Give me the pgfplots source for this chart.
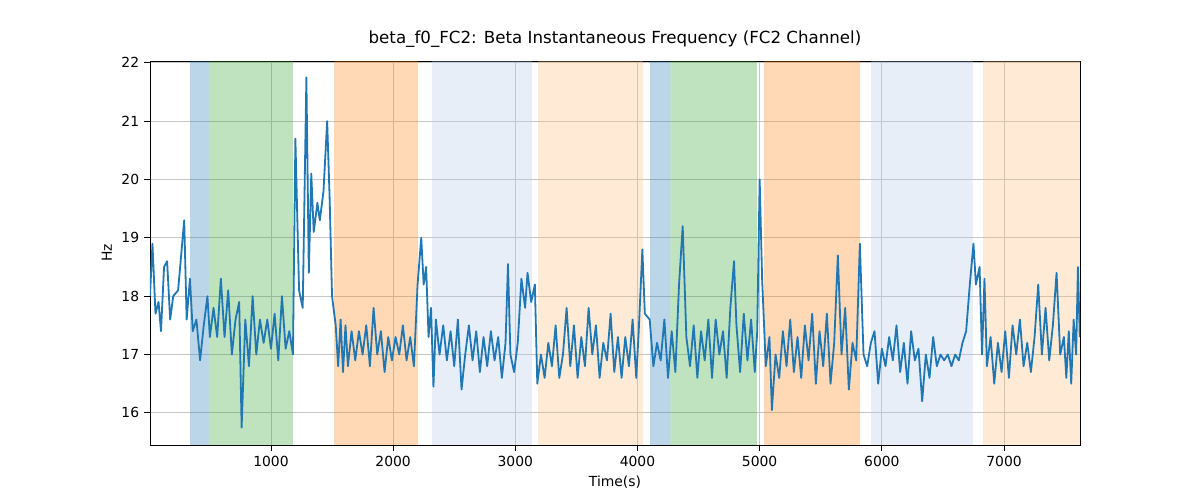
\documentclass[border=0pt]{standalone}
\usepackage{pgfplots}
\pgfplotsset{compat=1.18}
\usepackage{fontspec}
\setmainfont{DejaVu Sans}
\definecolor{tblue}{HTML}{1F77B4}
\definecolor{tgreen}{HTML}{2CA02C}
\definecolor{torange}{HTML}{FF7F0E}
\definecolor{lblue}{HTML}{AEC7E8}
\definecolor{lorange}{HTML}{FFBB78}
\begin{document}
\begin{tikzpicture}
\begin{axis}[at={(0,0)},anchor=south west,scale only axis,width=669.6pt,height=276.5pt,
xmin=10,xmax=7622,ymin=15.45,ymax=22.03,
xtick={1000,2000,...,7000},ytick={16,...,22},
xtick pos=bottom,ytick pos=left,
grid=major,grid style={gray!45,line width=0.6pt},
tick align=outside,tick style={black,line width=0.6pt},
font=\fontsize{10}{12}\selectfont,
/pgf/number format/assume math mode=true,
/pgf/number format/1000 sep={},
title={\fontsize{12}{14}\selectfont beta\_f0\_FC2: Beta Instantaneous Frequency (FC2 Channel)},
xlabel={Time(s)},ylabel={Hz}]
\def\band#1#2#3{\addplot[draw=none,fill=#3,fill opacity=0.3,forget plot] coordinates {(#1,15.45)(#2,15.45)(#2,22.03)(#1,22.03)} --cycle;}
\band{337}{493}{tblue}
\band{493}{1180}{tgreen}
\band{1516}{2204}{torange}
\band{2318}{3137}{lblue}
\band{3186}{4045}{lorange}
\band{4103}{4266}{tblue}
\band{4266}{4979}{tgreen}
\band{5036}{5822}{torange}
\band{5912}{6746}{lblue}
\band{6828}{7622}{lorange}
\addplot[tblue,line width=1.3pt,mark=none,line join=round] coordinates {
(10,18.0)(30,18.9)(55,17.7)(80,17.9)(100,17.4)(125,18.5)(150,18.6)(175,17.6)(200,18.0)(240,18.1)(290,19.3)(310,17.6)(337,18.3)(360,17.4)(390,17.6)(420,16.9)(450,17.5)(480,18.0)(500,17.3)(530,17.8)(560,17.3)(590,18.3)(620,17.3)(650,18.1)(680,17.0)(710,17.6)(740,17.9)(760,15.75)(790,17.6)(820,16.8)(850,18.0)(880,17.0)(910,17.6)(940,17.2)(970,17.6)(1000,17.1)(1030,17.7)(1060,16.9)(1090,18.0)(1120,17.1)(1150,17.4)(1180,17.0)(1200,20.7)(1230,18.1)(1260,17.8)(1290,21.75)(1310,18.4)(1330,20.1)(1350,19.1)(1380,19.6)(1400,19.3)(1430,19.8)(1460,21.0)(1480,19.7)(1500,18.0)(1530,17.5)(1550,16.8)(1570,17.6)(1590,16.7)(1610,17.5)(1630,16.8)(1660,17.4)(1690,16.9)(1720,17.4)(1750,17.0)(1780,17.5)(1810,16.8)(1840,17.8)(1870,17.0)(1900,17.4)(1930,16.7)(1960,17.3)(1990,16.9)(2020,17.3)(2050,17.0)(2080,17.5)(2110,16.9)(2140,17.3)(2170,16.8)(2200,18.2)(2230,19.0)(2250,18.2)(2270,18.5)(2290,17.3)(2310,17.8)(2330,16.45)(2350,17.6)(2380,17.0)(2410,17.5)(2440,16.9)(2470,17.4)(2500,16.8)(2530,17.6)(2560,16.4)(2590,17.0)(2620,17.5)(2650,16.9)(2680,17.4)(2710,16.7)(2740,17.3)(2770,16.8)(2800,17.4)(2830,16.9)(2860,17.3)(2890,16.6)(2920,17.2)(2940,18.55)(2960,17.0)(2990,16.7)(3020,17.2)(3050,18.3)(3080,17.8)(3100,18.4)(3130,17.9)(3160,18.2)(3180,16.5)(3210,17.0)(3240,16.6)(3270,17.2)(3300,16.8)(3330,17.5)(3360,16.6)(3390,17.0)(3420,17.8)(3450,16.8)(3480,17.5)(3510,16.6)(3540,17.3)(3570,16.8)(3600,17.8)(3630,17.0)(3660,17.5)(3690,16.6)(3720,17.2)(3750,16.9)(3780,17.7)(3810,16.7)(3840,17.3)(3870,16.6)(3900,17.3)(3930,16.8)(3960,17.6)(3990,16.6)(4010,17.4)(4040,18.8)(4060,17.7)(4100,17.6)(4130,16.8)(4160,17.2)(4190,16.9)(4220,17.6)(4250,16.6)(4280,17.4)(4310,16.7)(4340,18.2)(4370,19.2)(4400,17.3)(4430,16.8)(4460,17.5)(4490,16.6)(4520,17.4)(4550,16.9)(4580,17.6)(4610,16.6)(4640,17.6)(4670,17.0)(4700,17.4)(4730,16.6)(4760,17.8)(4790,18.6)(4810,17.5)(4840,16.7)(4870,17.7)(4900,16.9)(4930,17.6)(4960,16.7)(4980,17.4)(5000,20.0)(5020,18.3)(5050,16.8)(5080,17.3)(5100,16.05)(5130,17.0)(5160,16.6)(5190,17.4)(5220,16.8)(5250,17.6)(5280,16.7)(5310,17.3)(5340,16.6)(5370,17.5)(5400,16.9)(5430,17.7)(5460,16.5)(5490,17.4)(5520,16.8)(5550,17.7)(5580,16.5)(5610,17.2)(5640,18.7)(5670,17.0)(5700,17.8)(5730,16.4)(5760,17.2)(5790,16.9)(5820,18.9)(5850,17.0)(5880,16.8)(5910,17.2)(5940,17.4)(5970,16.5)(6000,17.1)(6030,16.8)(6060,17.3)(6090,16.9)(6120,17.5)(6150,16.7)(6180,17.2)(6210,16.5)(6240,17.4)(6270,16.9)(6300,17.1)(6330,16.2)(6360,17.0)(6390,16.6)(6420,17.3)(6450,16.8)(6480,17.0)(6510,16.9)(6540,17.0)(6570,16.8)(6600,17.0)(6630,16.9)(6660,17.2)(6690,17.4)(6720,18.2)(6750,18.9)(6770,18.2)(6800,18.5)(6820,17.0)(6840,18.3)(6860,16.8)(6890,17.3)(6920,16.5)(6950,17.2)(6980,16.7)(7010,17.4)(7040,16.6)(7070,17.5)(7100,17.0)(7130,17.6)(7160,16.8)(7190,17.2)(7220,16.7)(7250,17.3)(7280,18.2)(7310,17.0)(7340,17.8)(7370,16.9)(7400,17.5)(7430,18.4)(7460,17.0)(7490,17.3)(7510,16.6)(7530,17.4)(7550,16.5)(7570,17.6)(7590,17.0)(7605,18.5)(7620,17.3)};
\end{axis}
\useasboundingbox (-108pt,-39.6pt) rectangle (756pt,320.4pt);
\end{tikzpicture}
\end{document}
